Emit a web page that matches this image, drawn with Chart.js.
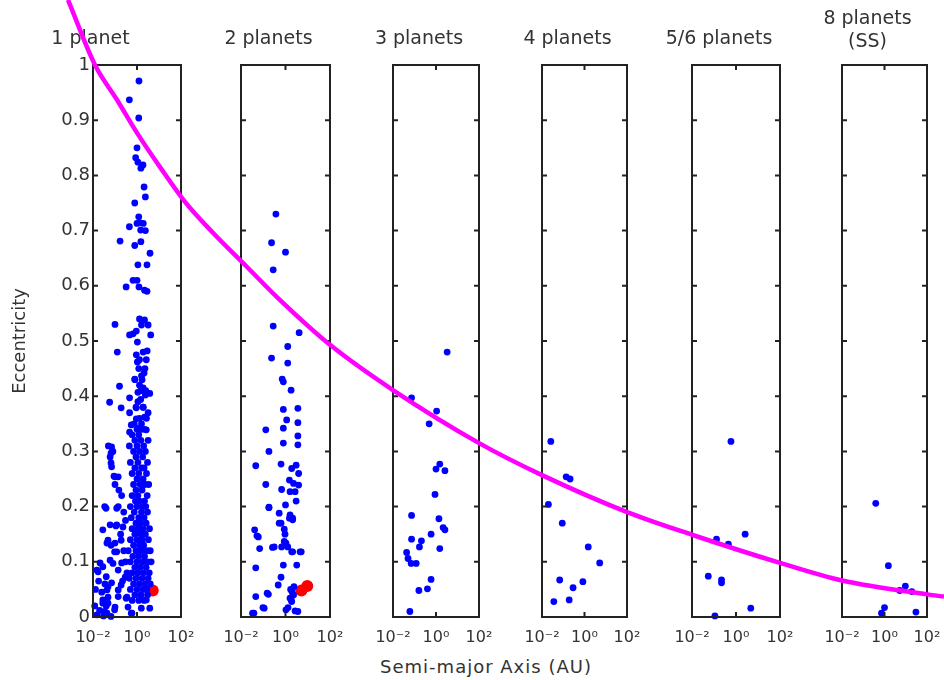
<!DOCTYPE html>
<html>
<head>
<meta charset="utf-8">
<script src="https://cdn.jsdelivr.net/npm/chart.js@4.4.1/dist/chart.umd.min.js"></script>
<style>
  html, body { margin: 0; padding: 0; background: #fff; overflow: hidden; }
  #wrap { position: relative; width: 944px; height: 680px; overflow: hidden; }
  canvas { position: absolute; top: 0; }
  #xlabel {
    position: absolute; left: 486px; top: 657px; transform: translateX(-50%);
    font: 18px "DejaVu Sans"; line-height: 20px; letter-spacing: 1px; color: #333; white-space: nowrap;
  }
</style>
</head>
<body>
<div id="wrap">
  <div id="xlabel">Semi-major Axis (AU)</div>
</div>
<script>
// panel titles and tick labels
const panelTitles = [["1 planet"], ["2 planets"], ["3 planets"], ["4 planets"], ["5/6 planets"], ["8 planets", "(SS)"]];
const xTickValues = [0.01, 1, 100];
const xTickLabels = ["10\u207B\u00B2", "10\u2070", "10\u00B2"];

// [semi-major axis (AU), eccentricity]
const onePlanet = [
  [1.23,0.971],[0.45,0.937],[1.2,0.904],[1.0,0.85],[0.87,0.832],[1.1,0.824],[1.87,0.819],[1.5,0.813],
  [2.1,0.779],[2.4,0.761],[0.79,0.75],[1.2,0.725],[1.4,0.714],[1.0,0.713],[1.93,0.713],[0.45,0.707],
  [1.47,0.701],[2.4,0.7],[0.17,0.681],[1.5,0.68],[0.79,0.673],[3.9,0.659],[2.85,0.638],[1.1,0.638],
  [0.66,0.61],[1.0,0.61],[0.32,0.598],[1.23,0.598],[2.85,0.59],[2.2,0.592],
  [0.1,0.53],[1.3,0.54],[2.2,0.538],[1.6,0.529],[3.2,0.529],[0.93,0.518],[0.46,0.511],[4.2,0.511],
  [0.66,0.513],[1.04,0.498],[0.127,0.48],[2.9,0.482],[1.9,0.48],[0.93,0.475],[1.3,0.466],[2.65,0.466],
  [1.04,0.462],[2.1,0.442],[1.6,0.437],[0.79,0.431],[0.16,0.418],[1.3,0.42],[1.9,0.415],[1.1,0.407],
  [3.8,0.405],[2.4,0.402],[1.47,0.394],[0.46,0.397],[0.057,0.389],[0.19,0.379],[0.93,0.379],[1.9,0.38],
  [3.2,0.37],[0.46,0.37],[2.2,0.362],[0.93,0.359],[0.55,0.348],[1.1,0.342],[1.6,0.34],[0.46,0.335],[2.65,0.339],
  [0.07,0.308],[0.06,0.29],[0.07,0.272],[0.1,0.254],[0.039,0.197],[0.12,0.197],[0.028,0.158],[0.06,0.167],
  [0.12,0.167],[0.23,0.163],[0.043,0.134],[0.1,0.134],[0.015,0.085],[0.021,0.098],[0.06,0.103],[0.12,0.118],
  [0.2,0.098],[0.043,0.049],[0.028,0.025],[0.043,0.007],[0.048,0.036],[0.07,0.062],[0.1,0.018],[0.14,0.049],
  [0.39,0.018],[0.59,0.007],[0.29,0.072],[0.35,0.036],
  [0.066,0.297],[0.066,0.279],[0.14,0.254],[0.034,0.2],[0.14,0.2],[0.11,0.165],[0.048,0.139],[0.066,0.13],
  [0.096,0.118],[0.19,0.139],[0.017,0.082],[0.028,0.091],[0.04,0.073],[0.081,0.097],[0.14,0.085],[0.19,0.058],
  [0.048,0.055],[0.028,0.031],[0.048,0.025],[0.034,0.01],[0.066,0.001],[0.096,0.013],[0.14,0.037],[0.55,0.007],
  [1.57,0.016],[3.8,0.016],[2.65,0.031],[0.32,0.034],
  [0.05,0.31],[0.08,0.3],[0.09,0.255],[0.1,0.24],[0.15,0.23],[0.2,0.22],[0.25,0.19],[0.3,0.175],
  [0.18,0.15],[0.25,0.12],[0.3,0.1],[0.35,0.08],[0.22,0.065],
  [0.012,0.02],[0.013,0.05],[0.015,0.004],[0.02,0.012],[0.018,0.065],[0.025,0.045],[0.03,0.002],[0.035,0.06],[0.04,0.02],
  [0.6,0.03],[1.2,0.03],[2.1,0.03],[0.8,0.04],[1.5,0.04],[3.0,0.04],[0.5,0.05],[1.0,0.05],[1.9,0.05],[2.8,0.05],
  [0.7,0.06],[1.3,0.06],[2.4,0.06],[4.0,0.06],[0.45,0.07],[0.9,0.07],[1.7,0.07],[3.2,0.07],
  [0.6,0.08],[1.1,0.08],[2.0,0.08],[3.6,0.08],[0.8,0.09],[1.4,0.09],[2.6,0.09],
  [0.5,0.1],[1.0,0.1],[1.8,0.1],[3.0,0.1],[4.4,0.1],[0.65,0.11],[1.2,0.11],[2.2,0.11],
  [0.4,0.12],[0.9,0.12],[1.6,0.12],[2.8,0.12],[4.0,0.12],[0.7,0.13],[1.3,0.13],[2.0,0.13],
  [0.5,0.14],[1.0,0.14],[1.7,0.14],[3.3,0.14],[0.8,0.15],[1.5,0.15],[2.4,0.15],
  [0.6,0.16],[1.1,0.16],[1.9,0.16],[3.7,0.16],[0.9,0.17],[1.4,0.17],[2.6,0.17],
  [0.55,0.18],[1.2,0.18],[2.1,0.18],[0.75,0.19],[1.6,0.19],[3.0,0.19],
  [0.5,0.2],[1.0,0.2],[1.8,0.2],[2.5,0.2],[0.85,0.21],[1.3,0.21],[2.2,0.21],
  [0.6,0.22],[1.1,0.22],[2.9,0.22],[0.9,0.23],[1.7,0.23],[0.7,0.24],[1.4,0.24],[2.3,0.24],[3.4,0.24],
  [1.0,0.25],[1.9,0.25],[0.6,0.26],[1.2,0.26],[2.7,0.26],[0.8,0.27],[1.6,0.27],[2.1,0.27],
  [0.5,0.28],[1.1,0.28],[3.0,0.28],[0.9,0.29],[1.8,0.29],[0.7,0.3],[1.3,0.3],[2.4,0.3],
  [0.45,0.31],[1.0,0.31],[2.0,0.31],[0.8,0.32],[1.5,0.32],[3.2,0.32],[0.6,0.33],[1.2,0.33],
  [1.0,0.34],[2.2,0.34],[0.75,0.35],[1.6,0.35],[1.3,0.36],[2.7,0.36],[0.9,0.38],[1.9,0.38],
  [1.1,0.39],[1.5,0.41],[2.5,0.41],[0.8,0.43],[1.7,0.43],[1.2,0.45],[2.3,0.45]
];
const twoPlanets = [
  [0.37,0.73],[0.236,0.678],[1.0,0.661],[0.28,0.629],[0.28,0.527],[4.1,0.515],[1.26,0.49],[0.236,0.469],
  [1.26,0.46],[0.71,0.431],[0.8,0.426],[1.78,0.411],[0.8,0.376],[3.6,0.378],[1.13,0.357],[3.6,0.352],
  [0.13,0.339],[0.8,0.342],[3.6,0.328],[0.8,0.315],[3.6,0.312],[0.18,0.3],[0.046,0.274],[0.63,0.277],
  [3.0,0.275],[1.9,0.269],[3.9,0.26],[0.13,0.24],[2.3,0.242],[3.9,0.239],[0.67,0.231],[1.6,0.227],
  [2.7,0.227],[3.0,0.21],[0.18,0.198],[1.0,0.203],[0.52,0.188],[1.6,0.185],[2.1,0.179],[0.63,0.17],
  [0.041,0.158],[0.88,0.159],[0.052,0.147],[0.95,0.15],[0.88,0.137],[0.069,0.124],[0.26,0.126],[0.67,0.127],
  [1.26,0.127],[1.9,0.118],[4.5,0.118],[0.046,0.089],[0.8,0.094],[3.2,0.094],[0.63,0.072],[0.17,0.041],
  [0.47,0.058],[0.046,0.037],[0.097,0.017],[0.033,0.007],[1.6,0.034],[2.3,0.04],[1.3,0.017],[2.7,0.011],
  [1.9,0.028],[0.11,0.016],[0.038,0.007],[0.15,0.043],[1.05,0.013],[3.6,0.01],[1.8,0.031],[0.06,0.145],
  [0.31,0.127],[0.52,0.17],[1.05,0.134],[2.1,0.118],[5.1,0.118],[0.18,0.199],[1.5,0.179],[2.1,0.176],
  [1.5,0.248],[1.7,0.05],[2.4,0.055],[2.0,0.045]
];
const threePlanets = [
  [3.3,0.48],[0.073,0.397],[1.07,0.373],[0.48,0.35],[1.5,0.277],[1.0,0.268],[2.6,0.265],[0.9,0.222],
  [0.073,0.184],[1.37,0.178],[2.15,0.162],[2.6,0.158],[0.59,0.15],[0.073,0.141],[0.21,0.138],[0.17,0.127],
  [1.5,0.124],[0.043,0.117],[0.05,0.106],[0.07,0.097],[0.12,0.097],[0.59,0.068],[0.4,0.051],[0.16,0.048],[0.061,0.01]
];
const fourPlanets = [
  [0.026,0.318],[0.137,0.254],[0.21,0.25],[0.02,0.204],[0.09,0.17],[1.5,0.127],[5.2,0.098],[0.068,0.067],
  [0.84,0.064],[0.29,0.053],[0.036,0.028],[0.19,0.031]
];
const fiveSixPlanets = [
  [0.59,0.318],[0.13,0.141],[0.45,0.132],[2.6,0.15],[0.055,0.074],[0.22,0.067],[0.22,0.062],[4.7,0.016],[0.11,0.002]
];
const solarSystem = [
  [0.387,0.206],[0.723,0.007],[1.0,0.017],[1.524,0.093],[5.2,0.048],[9.58,0.056],[19.2,0.046],[30.1,0.009]
];
const redOne = [[5.2,0.048]];
const redTwo = [[5.2,0.048],[9.5,0.056]];

// magenta curve: [panel position (0 = centre of first panel, 1 per panel), eccentricity]
const magentaCurve = [
  [-0.4615,1.118],[-0.281,1.0],[-0.134,0.937],[0.0,0.877],[0.154,0.815],[0.321,0.752],[0.508,0.696],
  [0.736,0.634],[0.957,0.574],[1.291,0.493],[1.712,0.411],[2.288,0.315],[2.709,0.257],[3.278,0.190],
  [3.712,0.149],[4.301,0.098],[4.716,0.066],[5.284,0.041],[5.398,0.037]
];

const panelData = [onePlanet, twoPlanets, threePlanets, fourPlanets, fiveSixPlanets, solarSystem];
const panelRed = [redOne, redTwo, [], [], [], []];

// layout (pixels)
const boxLeft = [93, 241, 393, 542, 692, 842];
const boxRight = [181, 330, 479, 627, 780, 927];
const W = 944, H = 680, XAXIS_H = 63, PAD_R = 32;
const FONT = "DejaVu Sans";
const INK = "#333";

const framePlugin = {
  id: "frame",
  afterDraw(chart) {
    const { ctx, chartArea: a, scales } = chart;
    ctx.save();
    ctx.strokeStyle = "#222";
    ctx.lineWidth = 2;
    ctx.strokeRect(a.left, a.top, a.right - a.left, a.bottom - a.top);
    ctx.beginPath();
    for (let k = 0; k <= 10; k++) {
      const y = scales.y.getPixelForValue(k / 10);
      ctx.moveTo(a.left, y); ctx.lineTo(a.left + 5, y);
      ctx.moveTo(a.right, y); ctx.lineTo(a.right - 5, y);
    }
    xTickValues.forEach(v => {
      const x = scales.x.getPixelForValue(v);
      ctx.moveTo(x, a.bottom); ctx.lineTo(x, a.bottom - 5);
      ctx.moveTo(x, a.top); ctx.lineTo(x, a.top + 5);
    });
    ctx.stroke();
    ctx.restore();
  }
};

const wrap = document.getElementById("wrap");

panelData.forEach((pts, i) => {
  const yw = i === 0 ? boxLeft[0] : 34;
  const cv = document.createElement("canvas");
  cv.width = yw + (boxRight[i] - boxLeft[i]) + PAD_R;
  cv.height = H;
  cv.style.left = (boxLeft[i] - yw) + "px";
  wrap.appendChild(cv);
  const twoLine = panelTitles[i].length > 1;

  new Chart(cv, {
    type: "scatter",
    data: {
      datasets: [
        {
          data: pts.map(p => ({ x: p[0], y: p[1] })),
          backgroundColor: "#0000ff",
          borderWidth: 0,
          pointRadius: 3.4,
          clip: 6
        },
        {
          data: panelRed[i].map(p => ({ x: p[0], y: p[1] })),
          backgroundColor: "#ff0000",
          borderWidth: 0,
          pointRadius: 6,
          clip: 8
        }
      ]
    },
    options: {
      responsive: false,
      animation: false,
      layout: { padding: { left: 0, right: PAD_R, top: 0, bottom: 0 } },
      plugins: {
        legend: { display: false },
        tooltip: { enabled: false },
        title: {
          display: true,
          text: panelTitles[i],
          color: INK,
          font: { family: FONT, size: 19, weight: "normal", lineHeight: twoLine ? "23px" : "19px" },
          padding: twoLine ? { top: 8, bottom: 11 } : { top: 30, bottom: 16 }
        }
      },
      scales: {
        x: {
          type: "logarithmic",
          min: 0.01,
          max: 100,
          grid: { display: false, drawTicks: false },
          border: { display: false },
          afterBuildTicks: s => { s.ticks = xTickValues.map(v => ({ value: v })); },
          afterFit: s => { s.height = XAXIS_H; },
          ticks: {
            autoSkip: false,
            maxRotation: 0,
            padding: 11,
            color: INK,
            font: { family: FONT, size: 16 },
            callback: v => xTickLabels[xTickValues.indexOf(v)]
          }
        },
        y: {
          min: 0,
          max: 1,
          grid: { display: false, drawTicks: false },
          border: { display: false },
          afterFit: s => { s.width = yw; },
          ticks: {
            display: i === 0,
            stepSize: 0.1,
            padding: 3,
            color: INK,
            font: { family: FONT, size: 18 },
            callback: v => String(Math.round(v * 10) / 10)
          },
          title: {
            display: i === 0,
            text: "Eccentricity",
            color: INK,
            font: { family: FONT, size: 18 },
            padding: { top: 10, bottom: 0 }
          }
        }
      }
    },
    plugins: [framePlugin]
  });
});

// magenta curve overlay across the whole figure
const ov = document.createElement("canvas");
ov.width = W; ov.height = H;
ov.style.left = "0px";
ov.style.pointerEvents = "none";
wrap.appendChild(ov);
new Chart(ov, {
  type: "scatter",
  data: {
    datasets: [{
      data: magentaCurve.map(p => ({ x: p[0], y: p[1] })),
      showLine: true,
      borderColor: "#ff00ff",
      borderWidth: 4.5,
      pointRadius: 0,
      cubicInterpolationMode: "monotone"
    }]
  },
  options: {
    responsive: false,
    animation: false,
    layout: { padding: 0 },
    plugins: { legend: { display: false }, tooltip: { enabled: false } },
    scales: {
      x: { type: "linear", display: false, min: -137 / 149.5, max: (W - 137) / 149.5 },
      y: { type: "linear", display: false, min: (617 - H) / 552, max: 617 / 552 }
    }
  }
});
</script>
</body>
</html>
